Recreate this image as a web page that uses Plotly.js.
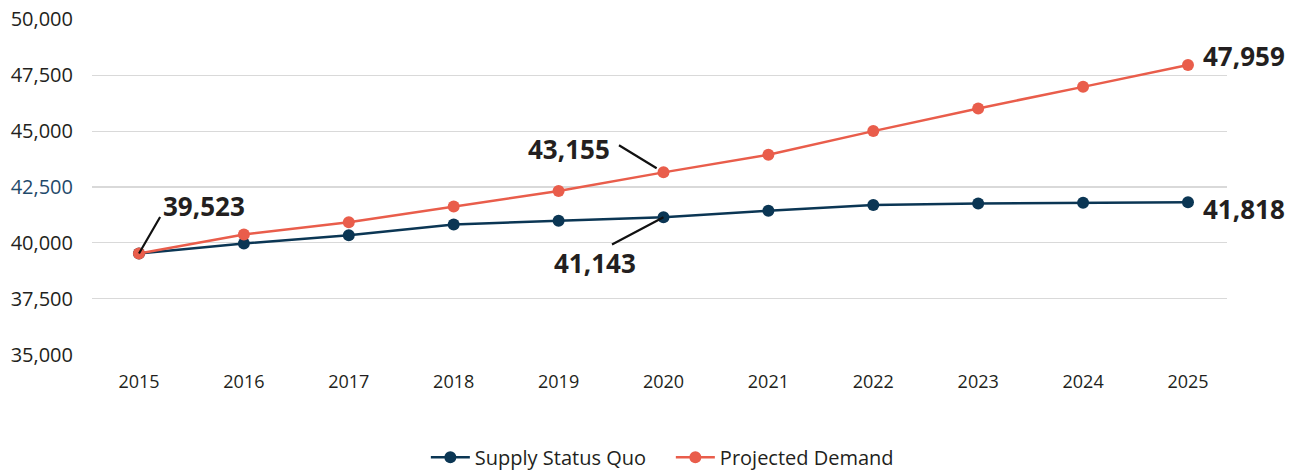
<!DOCTYPE html>
<html>
<head>
<meta charset="utf-8">
<script src="https://cdn.plot.ly/plotly-3.0.1.min.js"></script>
<style>html,body{margin:0;padding:0;background:#fff;}#chart{width:1297px;height:470px;}</style>
</head>
<body>
<div id="chart"></div>
<script>
// ---- data ----
const years = [2015, 2016, 2017, 2018, 2019, 2020, 2021, 2022, 2023, 2024, 2025];
const supplyStatusQuo = [39523, 39975, 40345, 40825, 40995, 41143, 41440, 41690, 41765, 41800, 41818];
const projectedDemand = [39523, 40375, 40925, 41625, 42320, 43155, 43940, 45000, 46015, 46980, 47959];
const seriesNames = ["Supply Status Quo", "Projected Demand"];
const yTickVals = [35000, 37500, 40000, 42500, 45000, 47500, 50000];
const yTickText = ["35,000", "37,500", "40,000", "42,500", "45,000", "47,500", "50,000"];

const supplyColor = "#0b3654";
const demandColor = "#e95d4b";
const textColor = "#231f20";

const fmt = v => v.toLocaleString("en-US");

const traces = [
  {x: years, y: supplyStatusQuo, name: seriesNames[0], type: "scatter", mode: "lines+markers",
   line: {color: supplyColor, width: 2.5}, marker: {color: supplyColor, size: 12}},
  {x: years, y: projectedDemand, name: seriesNames[1], type: "scatter", mode: "lines+markers",
   line: {color: demandColor, width: 2.5}, marker: {color: demandColor, size: 12}}
];

const labelFont = {family: "Open Sans, Noto Sans, sans-serif", size: 26, color: textColor, weight: 700};
const leader = (xi, yv, ax, ay, standoff) => ({
  x: years[xi], y: yv, xref: "x", yref: "y", text: "", showarrow: true, arrowhead: 0,
  arrowwidth: 2.2, arrowcolor: "#111", ax: ax, ay: ay, standoff: standoff
});
const label = (xi, yv, xanchor, xshift, yshift) => ({
  x: years[xi], y: yv, xref: "x", yref: "y", text: "<b>" + fmt(yv) + "</b>", showarrow: false,
  xanchor: xanchor, yanchor: "middle", xshift: xshift, yshift: yshift, font: labelFont
});

const annotations = [
  leader(0, supplyStatusQuo[0], 22, -38, 0),
  label(0, supplyStatusQuo[0], "left", 22, 48),
  leader(5, projectedDemand[5], -46, -28, 8),
  label(5, projectedDemand[5], "right", -51, 23),
  leader(5, supplyStatusQuo[5], -53, 28, 0),
  label(5, supplyStatusQuo[5], "center", -68, -46),
  label(10, projectedDemand[10], "left", 13, 9),
  label(10, supplyStatusQuo[10], "left", 13, -7)
];

const coloredTickText = yTickText.map((t, i) =>
  yTickVals[i] === 42500 ? '<span style="color:#1f4a6b">' + t + '</span>' : t);

const layout = {
  width: 1297, height: 470,
  paper_bgcolor: "#fff", plot_bgcolor: "#fff",
  margin: {l: 92, r: 70, t: 19, b: 115, pad: 0, autoexpand: false},
  font: {family: "Open Sans, Noto Sans, sans-serif", color: textColor},
  showlegend: true,
  legend: {orientation: "h", x: 0.51, xanchor: "center", y: -0.304, yanchor: "middle",
           font: {size: 20, color: textColor}, itemwidth: 39, traceorder: "normal",
           entrywidth: 191, entrywidthmode: "pixels"},
  xaxis: {range: [2014.552, 2025.372], tickmode: "array", tickvals: years,
          ticktext: years.map(String), showgrid: false, zeroline: false, showline: false,
          ticks: "", tickfont: {size: 18, color: textColor}, ticklabelstandoff: 14},
  yaxis: {range: [34985, 50015], tickmode: "array", tickvals: yTickVals, ticktext: coloredTickText,
          showgrid: true, gridcolor: "#d9d9d9", gridwidth: 1.2, zeroline: false, showline: false,
          ticks: "", tickfont: {size: 20, color: textColor}, ticklabelstandoff: 18},
  annotations: annotations
};

Plotly.newPlot("chart", traces, layout, {displayModeBar: false, staticPlot: true});
</script>
</body>
</html>
